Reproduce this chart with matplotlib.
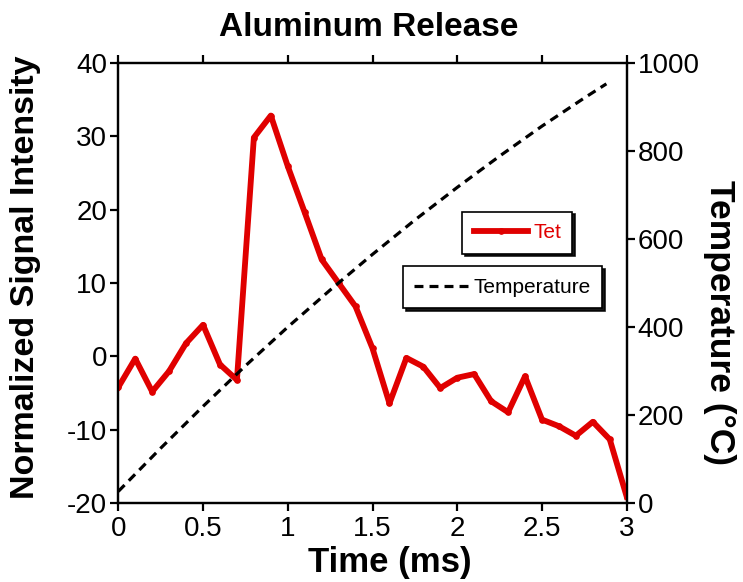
import matplotlib
matplotlib.use("Agg")
import matplotlib.pyplot as plt
from matplotlib.ticker import MultipleLocator

plt.rcParams['font.family'] = ['Liberation Sans', 'DejaVu Sans']
plt.rcParams['axes.unicode_minus'] = False

# Tet signal (normalized), sampled every 0.1 ms
time_ms = [0.0, 0.1, 0.2, 0.3, 0.4, 0.5, 0.6, 0.7, 0.8, 0.9, 1.0,
           1.1, 1.2, 1.3, 1.4, 1.5, 1.6, 1.7, 1.8, 1.9, 2.0,
           2.1, 2.2, 2.3, 2.4, 2.5, 2.6, 2.7, 2.8, 2.9, 3.0]
tet_signal = [-4.2, -0.3, -4.8, -2.0, 1.8, 4.3, -1.1, -3.2, 29.8, 32.8, 25.9,
              19.6, 13.2, 10.0, 6.8, 1.1, -6.4, -0.2, -1.4, -4.3, -2.9,
              -2.4, -6.1, -7.6, -2.7, -8.6, -9.5, -10.8, -8.9, -11.3, -19.1]

# Heating ramp
temp_time_ms = [0.0, 0.25, 0.5, 0.75, 1.0, 1.25, 1.5, 1.75, 2.0, 2.25, 2.5, 2.75, 2.88]
temperature_c = [27, 125, 220, 312, 400, 484, 565, 643, 717, 788, 856, 920, 952]

xticks = [0, 0.5, 1, 1.5, 2, 2.5, 3]
xtick_labels = ["0", "0.5", "1", "1.5", "2", "2.5", "3"]

fig = plt.figure(figsize=(7.43, 5.82), dpi=100)
ax = fig.add_axes([0.1592, 0.1352, 0.6843, 0.7571])
ax2 = ax.twinx()

red = '#E00000'
ax.plot(time_ms, tet_signal, color=red, lw=4.2, marker='o', ms=3.8,
        solid_joinstyle='round', zorder=3, label='Tet')
ax2.plot(temp_time_ms, temperature_c, color='black', lw=2.3,
         linestyle=(0, (2.8, 1.9)), label='Temperature')

ax.set_xlim(0, 3)
ax.set_ylim(-20, 40)
ax2.set_ylim(0, 1000)
ax.set_xticks(xticks)
ax.set_xticklabels(xtick_labels)
ax.yaxis.set_major_locator(MultipleLocator(10))
ax2.yaxis.set_major_locator(MultipleLocator(200))

for a in (ax, ax2):
    for s in a.spines.values():
        s.set_linewidth(1.6)
ax.tick_params(axis='both', which='major', direction='out', length=6, width=1.6,
               labelsize=20, top=True, pad=2)
ax.tick_params(axis='x', pad=3)
ax2.tick_params(axis='y', direction='out', length=6, width=1.6, labelsize=20, pad=2)

ax.text(0.493, 1.079, 'Aluminum Release', transform=ax.transAxes, fontsize=24,
        fontweight='bold', ha='center', va='center')
ax.set_xlabel('Time (ms)', fontsize=25, fontweight='bold')
ax.xaxis.set_label_coords(0.534, -0.135)
ax.xaxis.label.set_va('center')
ax.set_ylabel('Normalized Signal Intensity', fontsize=24.5, fontweight='bold')
ax.yaxis.set_label_coords(-0.183, 0.514)
ax.yaxis.label.set_va('center')
ax2.set_ylabel('Temperature (\u00b0C)', fontsize=25.5, fontweight='bold', rotation=270)
ax2.yaxis.set_label_coords(1.183, 0.411)
ax2.yaxis.label.set_va('center')

leg_kw = dict(fontsize=15, frameon=True, fancybox=False,
              shadow={'color': 'black', 'alpha': 0.9},
              loc='center', borderpad=0.55, handlelength=2.6, handletextpad=0.25,
              borderaxespad=0)
leg1 = ax2.legend(handles=ax.get_lines(), bbox_to_anchor=(0.785, 0.6145), **leg_kw)
leg1.get_texts()[0].set_color(red)
leg1.get_frame().set_edgecolor('black')
leg1.get_frame().set_linewidth(1.2)
ax2.add_artist(leg1)
leg2 = ax2.legend(handles=ax2.get_lines(), bbox_to_anchor=(0.756, 0.49), **leg_kw)
leg2.get_frame().set_edgecolor('black')
leg2.get_frame().set_linewidth(1.2)

fig.savefig('out.png', dpi=100)
